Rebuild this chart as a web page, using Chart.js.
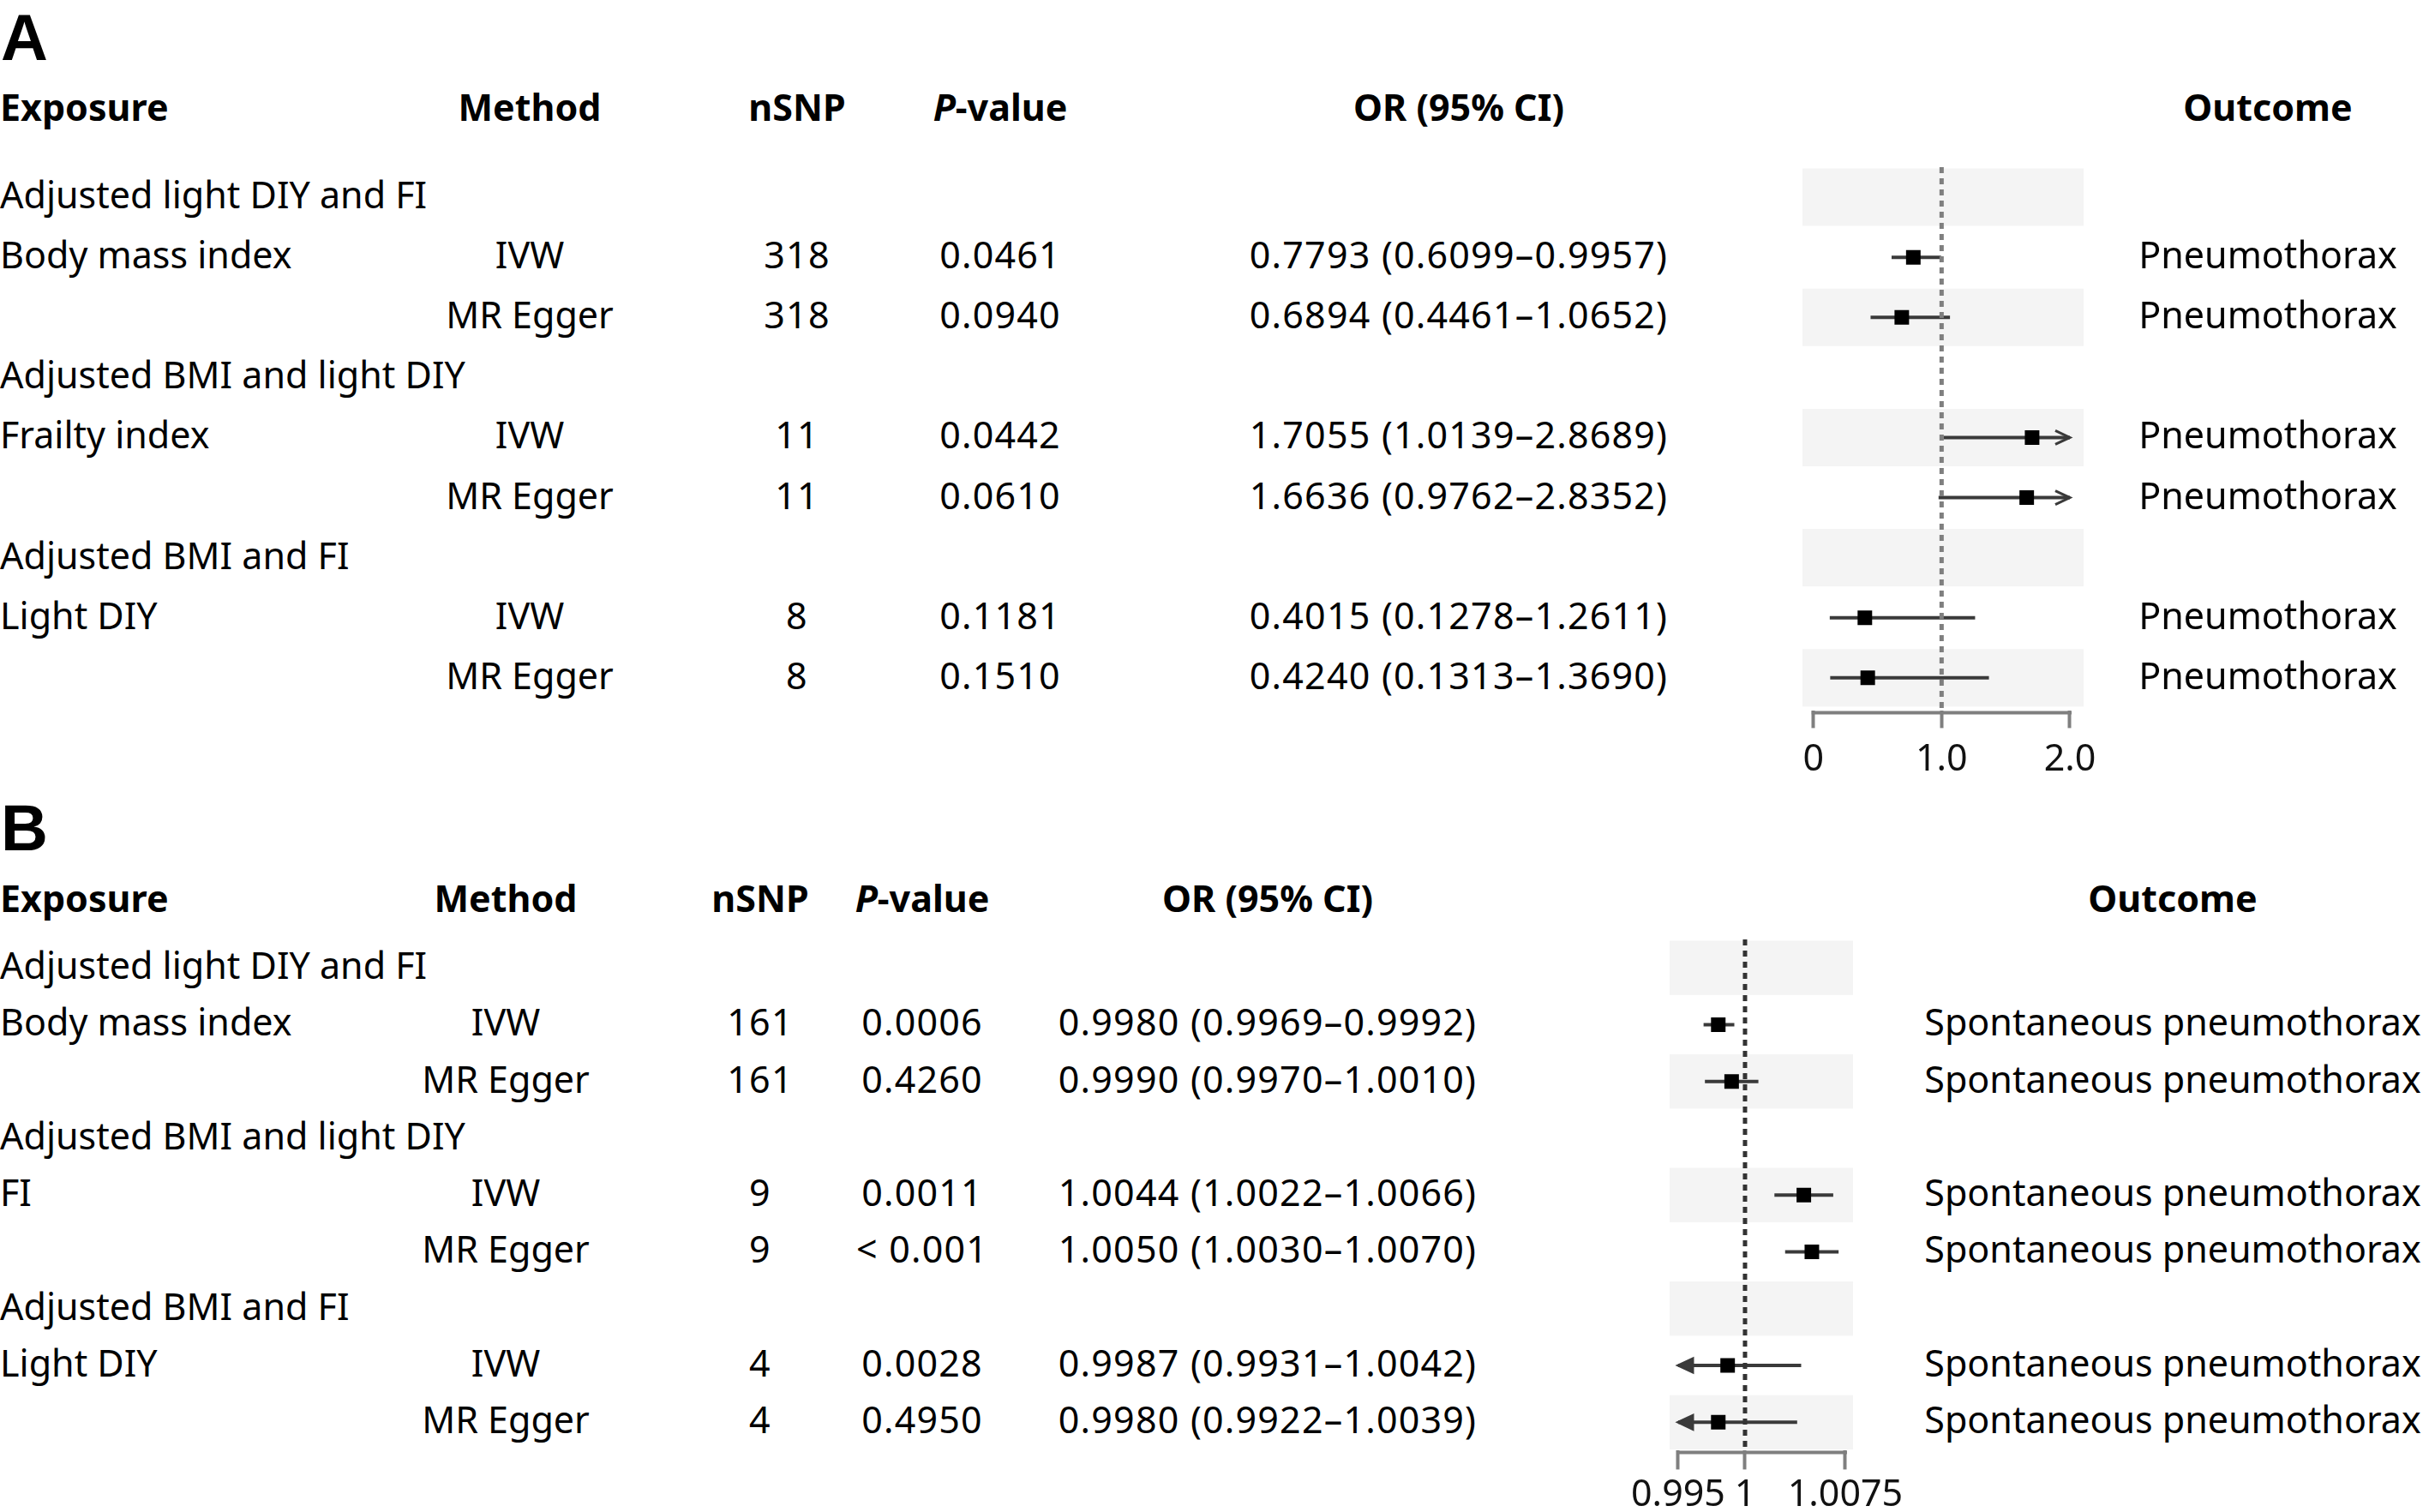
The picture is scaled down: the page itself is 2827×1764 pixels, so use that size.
<!DOCTYPE html>
<html lang="en">
<head>
<meta charset="UTF-8">
<title>MR forest plots - pneumothorax</title>
<script src="https://cdn.jsdelivr.net/npm/chart.js"></script>
<style>
  html, body { margin: 0; padding: 0; background: #fff; }
  #page { position: relative; width: 2827px; height: 1764px; overflow: hidden;
          font-family: "Noto Sans", sans-serif; color: #000; }
  .t { position: absolute; white-space: nowrap; font-size: 43px; line-height: 1; }
  .c { transform: translate(-50%, -50%); }
  .l { transform: translate(0, -50%); }
  .h { font-weight: 700; }
  .n { letter-spacing: 1.2px; }
  .panel { position: absolute; font-family: "Liberation Sans", sans-serif; font-weight: 700;
           font-size: 76px; line-height: 1; }
  canvas { position: absolute; }
</style>
</head>
<body>
<div id="page">
  <div class="panel" style="left:1px; top:6px;">A</div>
  <div class="panel" style="left:1px; top:928px;">B</div>
  <canvas id="forestA" width="488" height="728" style="left:2023px; top:195px;"></canvas>
  <canvas id="forestB" width="374" height="680" style="left:1868px; top:1096px;"></canvas>
</div>

<script>
// ---- Panel A: outcome pneumothorax ----
var exposureA = ['Adjusted light DIY and FI', 'Body mass index', '', 'Adjusted BMI and light DIY', 'Frailty index', '', 'Adjusted BMI and FI', 'Light DIY', ''];
var methodA = ['', 'IVW', 'MR Egger', '', 'IVW', 'MR Egger', '', 'IVW', 'MR Egger'];
var nsnpA = ['', '318', '318', '', '11', '11', '', '8', '8'];
var pvalA = ['', '0.0461', '0.0940', '', '0.0442', '0.0610', '', '0.1181', '0.1510'];
var orA = [null, 0.7793, 0.6894, null, 1.7055, 1.6636, null, 0.4015, 0.4240];
var lowA = [null, 0.6099, 0.4461, null, 1.0139, 0.9762, null, 0.1278, 0.1313];
var highA = [null, 0.9957, 1.0652, null, 2.8689, 2.8352, null, 1.2611, 1.3690];
var outcomeA = ['', 'Pneumothorax', 'Pneumothorax', '', 'Pneumothorax', 'Pneumothorax', '', 'Pneumothorax', 'Pneumothorax'];
var ticksA = [0, 1, 2];
var tickLabelsA = ['0', '1.0', '2.0'];

// ---- Panel B: outcome spontaneous pneumothorax ----
var exposureB = ['Adjusted light DIY and FI', 'Body mass index', '', 'Adjusted BMI and light DIY', 'FI', '', 'Adjusted BMI and FI', 'Light DIY', ''];
var methodB = ['', 'IVW', 'MR Egger', '', 'IVW', 'MR Egger', '', 'IVW', 'MR Egger'];
var nsnpB = ['', '161', '161', '', '9', '9', '', '4', '4'];
var pvalB = ['', '0.0006', '0.4260', '', '0.0011', '< 0.001', '', '0.0028', '0.4950'];
var orB = [null, 0.9980, 0.9990, null, 1.0044, 1.0050, null, 0.9987, 0.9980];
var lowB = [null, 0.9969, 0.9970, null, 1.0022, 1.0030, null, 0.9931, 0.9922];
var highB = [null, 0.9992, 1.0010, null, 1.0066, 1.0070, null, 1.0042, 1.0039];
var outcomeB = ['', 'Spontaneous pneumothorax', 'Spontaneous pneumothorax', '', 'Spontaneous pneumothorax', 'Spontaneous pneumothorax', '', 'Spontaneous pneumothorax', 'Spontaneous pneumothorax'];
var ticksB = [0.995, 1, 1.0075];
var tickLabelsB = ['0.995', '1', '1.0075'];

var page = document.getElementById('page');

function addText(html, x, y, cls) {
    var d = document.createElement('div');
    d.className = 't ' + cls;
    d.style.left = x + 'px';
    d.style.top = y + 'px';
    d.innerHTML = html;
    page.appendChild(d);
}

function orText(est, lo, hi) {
    return est.toFixed(4) + ' (' + lo.toFixed(4) + '\u2013' + hi.toFixed(4) + ')';
}

// light grey bands behind every other row
var stripePlugin = {
    id: 'stripes',
    beforeDatasetsDraw: function (chart, args, opts) {
        var a = chart.chartArea, y = chart.scales.y, c = chart.ctx;
        c.save();
        c.fillStyle = '#f4f4f4';
        for (var i = 0; i < opts.rows; i += 2) {
            var t = y.getPixelForValue(i - 0.478), b = y.getPixelForValue(i + 0.478);
            c.fillRect(a.left, t, a.right - a.left, b - t);
        }
        c.restore();
    }
};

// axis line only between first and last tick, plus arrows for clipped CIs
var axisPlugin = {
    id: 'axisArrows',
    afterDatasetsDraw: function (chart, args, opts) {
        var x = chart.scales.x, y = chart.scales.y, c = chart.ctx;
        var first = opts.ticks[0], last = opts.ticks[opts.ticks.length - 1];
        c.save();
        c.strokeStyle = '#7f7f7f';
        c.lineWidth = 4;
        c.beginPath();
        c.moveTo(x.getPixelForValue(first) - 2, chart.chartArea.bottom + 2);
        c.lineTo(x.getPixelForValue(last) + 2, chart.chartArea.bottom + 2);
        c.stroke();

        c.strokeStyle = '#3a3a3a';
        c.fillStyle = '#3a3a3a';
        c.lineWidth = 3;
        c.lineJoin = 'miter';
        function arrow(px, py, dir) {
            c.beginPath();
            c.moveTo(px - dir * 17, py - 8);
            c.lineTo(px, py);
            c.lineTo(px - dir * 17, py + 8);
            if (opts.filled) { c.closePath(); c.fill(); }
            c.stroke();
        }
        opts.est.forEach(function (v, i) {
            if (v === null) return;
            var py = y.getPixelForValue(i);
            if (opts.high[i] > last) arrow(x.getPixelForValue(last), py, 1);
            if (opts.low[i] < first) arrow(x.getPixelForValue(first), py, -1);
        });
        c.restore();
    }
};

function forestConfig(est, low, high, ticks, tickLabels, xMin, xMax, yMax, refColor, filled, tickLen, tickPad) {
    var first = ticks[0], last = ticks[ticks.length - 1];
    var datasets = [];
    var pts = [];
    est.forEach(function (v, i) { if (v !== null) pts.push({ x: v, y: i }); });
    datasets.push({
        data: pts, pointStyle: 'rect', pointRadius: 12,
        backgroundColor: '#000', borderWidth: 0, order: 0
    });
    datasets.push({
        type: 'line', data: [{ x: 1, y: -0.5 }, { x: 1, y: yMax }],
        borderColor: refColor, borderWidth: 5, borderDash: [7, 6],
        pointRadius: 0, order: 1
    });
    est.forEach(function (v, i) {
        if (v === null) return;
        datasets.push({
            type: 'line',
            data: [{ x: Math.max(low[i], first), y: i }, { x: Math.min(high[i], last), y: i }],
            borderColor: '#3a3a3a', borderWidth: 4, pointRadius: 0, order: 2
        });
    });

    return {
        type: 'scatter',
        data: { datasets: datasets },
        options: {
            responsive: false,
            maintainAspectRatio: false,
            animation: false,
            devicePixelRatio: 1,
            events: [],
            layout: { autoPadding: false, padding: { left: 80, right: 80, top: 0, bottom: 0 } },
            plugins: {
                legend: { display: false },
                tooltip: { enabled: false },
                stripes: { rows: est.length },
                axisArrows: { ticks: ticks, est: est, low: low, high: high, filled: filled }
            },
            scales: {
                x: {
                    type: 'linear', min: xMin, max: xMax,
                    afterBuildTicks: function (scale) {
                        scale.ticks = ticks.map(function (v) { return { value: v }; });
                    },
                    ticks: {
                        autoSkip: false, maxRotation: 0, minRotation: 0, padding: tickPad,
                        color: '#111',
                        font: { family: 'Noto Sans', size: 43 },
                        callback: function (value, index) { return tickLabels[index]; }
                    },
                    grid: {
                        drawOnChartArea: false, drawTicks: true, tickLength: tickLen,
                        tickWidth: 4, tickColor: '#7f7f7f'
                    },
                    border: { display: false }
                },
                y: { type: 'linear', reverse: true, min: -0.5, max: yMax, display: false }
            }
        },
        plugins: [stripePlugin, axisPlugin]
    };
}

// build the chart, then rebuild once so the plot area gets exactly the wanted height
function makeForest(id, areaHeight, makeCfg) {
    var canvas = document.getElementById(id);
    var chart = new Chart(canvas, makeCfg());
    var scaleH = chart.height - (chart.chartArea.bottom - chart.chartArea.top);
    var h = Math.round(areaHeight + scaleH);
    if (h !== chart.height) {
        chart.destroy();
        canvas.height = h;
        canvas.style.height = h + 'px';
        chart = new Chart(canvas, makeCfg());
    }
    return chart;
}

function placeTable(chart, canvasTop, headY, cols, exposure, method, nsnp, pval, est, low, high, outcome) {
    addText('Exposure', cols.exp, headY, 'l h');
    addText('Method', cols.method, headY, 'c h');
    addText('nSNP', cols.nsnp, headY, 'c h');
    addText('<i>P</i>-value', cols.p, headY, 'c h');
    addText('OR (95% CI)', cols.or, headY, 'c h');
    addText('Outcome', cols.out, headY, 'c h');
    var ys = chart.scales.y;
    exposure.forEach(function (e, i) {
        var y = canvasTop + ys.getPixelForValue(i) - 4;
        if (e) addText(e, cols.exp, y, 'l');
        if (method[i]) addText(method[i], cols.method, y, 'c');
        if (nsnp[i]) addText(nsnp[i], cols.nsnp, y, 'c n');
        if (pval[i]) addText(pval[i], cols.p, y, 'c n');
        if (est[i] !== null) addText(orText(est[i], low[i], high[i]), cols.or, y, 'c n');
        if (outcome[i]) addText(outcome[i], cols.out, y, 'c');
    });
}

// plot area heights: 9.05 rows of 70.1 px (A) and 9 rows of 66.2 px (B)
var chartA = makeForest('forestA', 634, function () {
    return forestConfig(orA, lowA, highA, ticksA, tickLabelsA, -0.085, 2.107, 8.55, '#7f7f7f', false, 20, 12);
});
var chartB = makeForest('forestB', 596, function () {
    return forestConfig(orB, lowB, highB, ticksB, tickLabelsB, 0.99436, 1.00808, 8.5, '#333333', true, 22, 5);
});

placeTable(chartA, 195, 124, { exp: 0, method: 618, nsnp: 930, p: 1167, or: 1702, out: 2646 },
    exposureA, methodA, nsnpA, pvalA, orA, lowA, highA, outcomeA);
placeTable(chartB, 1096, 1047, { exp: 0, method: 590, nsnp: 887, p: 1076, or: 1479, out: 2535 },
    exposureB, methodB, nsnpB, pvalB, orB, lowB, highB, outcomeB);
</script>
</body>
</html>
